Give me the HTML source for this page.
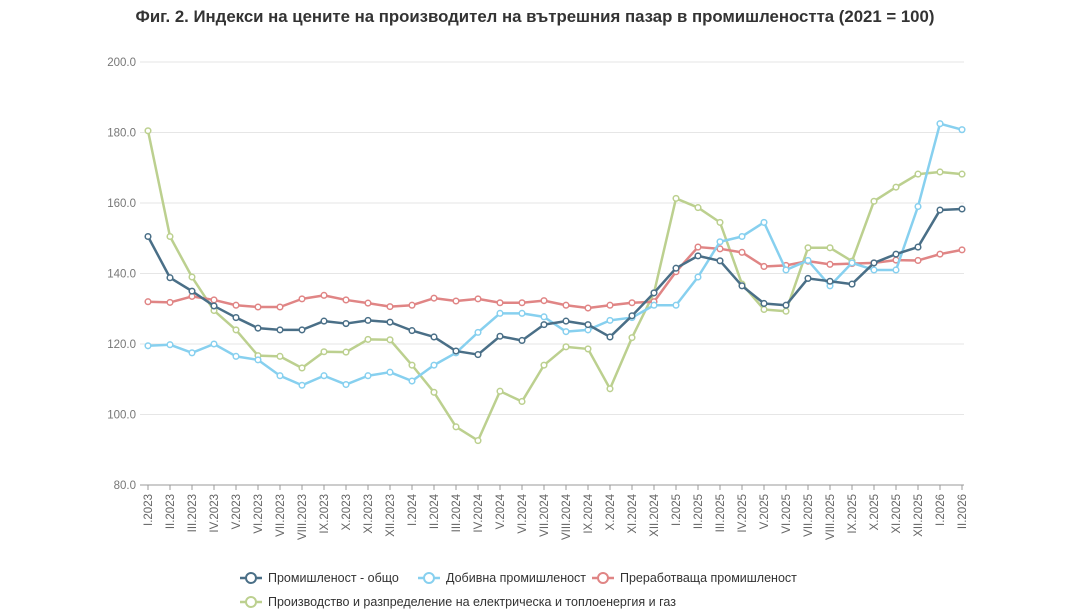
<!DOCTYPE html>
<html><head><meta charset="utf-8"><style>body{margin:0;background:#fff}svg{display:block}text{font-family:"Liberation Sans","DejaVu Sans",sans-serif}</style></head>
<body>
<svg id="s" width="1068" height="615" xmlns="http://www.w3.org/2000/svg">
<text x="535" y="22" text-anchor="middle" font-size="16.8" font-weight="bold" fill="#333">Фиг. 2. Индекси на цените на производител на вътрешния пазар  в промишлеността  (2021 = 100)</text>
<g id="grid"></g><g id="series"></g><g id="xl"></g>
<g font-size="12.5" fill="#333">
<line x1="240" y1="578" x2="262" y2="578" stroke="#4a6f87" stroke-width="2.5"/><circle cx="251" cy="578" r="5" fill="#fff" stroke="#4a6f87" stroke-width="2"/><text x="268" y="582">Промишленост - общо</text>
<line x1="418" y1="578" x2="440" y2="578" stroke="#87d0ef" stroke-width="2.5"/><circle cx="429" cy="578" r="5" fill="#fff" stroke="#87d0ef" stroke-width="2"/><text x="446" y="582">Добивна промишленост</text>
<line x1="592" y1="578" x2="614" y2="578" stroke="#e08585" stroke-width="2.5"/><circle cx="603" cy="578" r="5" fill="#fff" stroke="#e08585" stroke-width="2"/><text x="620" y="582">Преработваща промишленост</text>
<line x1="240" y1="602" x2="262" y2="602" stroke="#bcd08f" stroke-width="2.5"/><circle cx="251" cy="602" r="5" fill="#fff" stroke="#bcd08f" stroke-width="2"/><text x="268" y="606">Производство и разпределение на електрическа и топлоенергия и газ</text>
</g>
</svg>
<script>
const NS="http://www.w3.org/2000/svg";
function el(t,a,p,txt){const e=document.createElementNS(NS,t);for(const k in a)e.setAttribute(k,a[k]);if(txt)e.textContent=txt;p.appendChild(e);return e;}
const X0=148,DX=22,Y=v=>485-(v-80)*3.525;
const g=document.getElementById('grid');
for(let v=80;v<=200;v+=20){el('line',{x1:140,x2:964,y1:Y(v),y2:Y(v),stroke:v==80?'#999':'#e6e6e6','stroke-width':1},g);
el('text',{x:136,y:Y(v)+4,'text-anchor':'end','font-size':11.5,fill:'#777'},g,v.toFixed(1));}
const R=['I','II','III','IV','V','VI','VII','VIII','IX','X','XI','XII'];
const xl=document.getElementById('xl');
for(let i=0;i<38;i++){const x=X0+i*DX;const yr=2023+Math.floor(i/12);
el('line',{x1:x,x2:x,y1:485,y2:490,stroke:'#999'},xl);
el('text',{x:0,y:0,transform:`translate(${x+4},494) rotate(-90)`,'text-anchor':'end','font-size':11.5,fill:'#666'},xl,R[i%12]+'.'+yr);}
const D=[
['#bcd08f',[180.5,150.5,139,129.5,124,116.7,116.5,113.2,117.8,117.7,121.3,121.2,114,106.3,96.5,92.6,106.6,103.7,114,119.2,118.6,107.3,121.8,134.5,161.3,158.7,154.5,137,129.8,129.3,147.3,147.3,143.5,160.5,164.5,168.2,168.8,168.2]],
['#e08585',[132,131.8,133.5,132.5,131,130.5,130.5,132.8,133.8,132.5,131.6,130.6,131,133,132.2,132.8,131.7,131.7,132.3,131,130.2,131,131.7,132,140.5,147.5,147,146,142,142.3,143.5,142.6,142.8,143,143.8,143.7,145.5,146.7]],
['#87d0ef',[119.5,119.8,117.5,120,116.5,115.5,111,108.3,111,108.5,111,112,109.5,114,117.5,123.3,128.7,128.7,127.7,123.5,124,126.7,127.5,131,131,139,149,150.5,154.5,141,143.7,136.5,143,141,141,159,182.5,180.8]],
['#4a6f87',[150.5,138.8,135,130.8,127.5,124.5,124,124,126.5,125.8,126.7,126.2,123.8,122,118,117,122.2,121,125.5,126.5,125.5,122,128,134.5,141.5,145,143.6,136.5,131.5,131,138.6,137.8,137,143,145.5,147.5,158,158.3]]];
const s=document.getElementById('series');
D.forEach(([c,d])=>{el('polyline',{points:d.map((v,i)=>(X0+i*DX)+','+Y(v)).join(' '),fill:'none',stroke:c,'stroke-width':2.5,'stroke-linejoin':'round'},s);
d.forEach((v,i)=>el('circle',{cx:X0+i*DX,cy:Y(v),r:2.8,fill:'#fff',stroke:c,'stroke-width':1.5},s));});
</script>
</body></html>
